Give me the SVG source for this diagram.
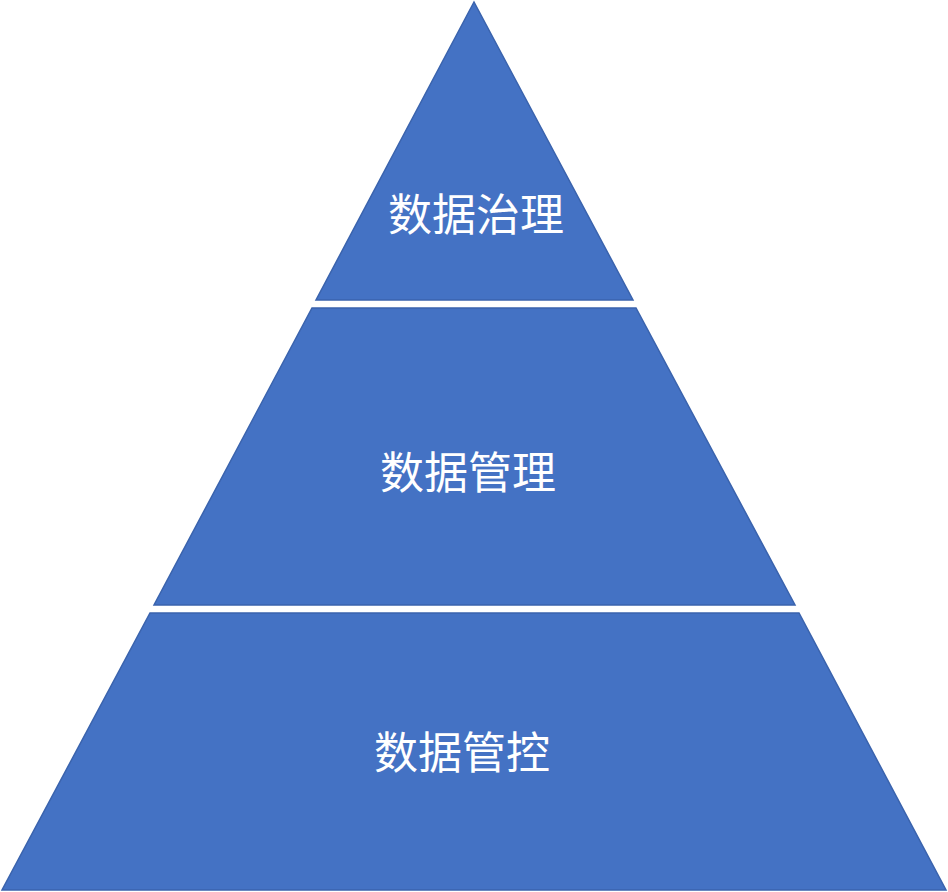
<svg xmlns="http://www.w3.org/2000/svg" width="948" height="892" viewBox="0 0 948 892">
<style>
.band{fill:#4472C4;stroke:#3A63AD;stroke-width:1.5}
.lbl{fill:#fff;font-family:"Noto Sans CJK SC",sans-serif;font-size:44px;text-anchor:middle;dominant-baseline:central}
</style>
<rect width="948" height="892" fill="#fff"/>
<g id="top"><polygon class="band" points="474,2 316,300 633,300"/><text class="lbl" x="476" y="212">数据治理</text></g>
<g id="middle"><polygon class="band" points="312,308 636,308 795,605 154,605"/><text class="lbl" x="468" y="470">数据管理</text></g>
<g id="bottom"><polygon class="band" points="150,613 799,613 946,890 2,890"/><text class="lbl" x="462" y="750">数据管控</text></g>
</svg>
